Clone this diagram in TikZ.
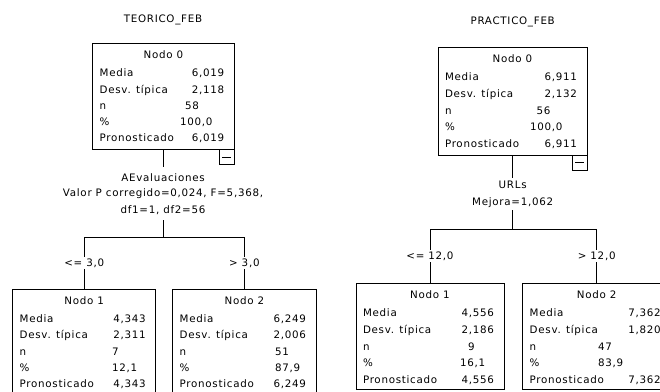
\documentclass[tikz,border=0pt]{standalone}
\usepackage{fontspec}
\setmainfont{DejaVu Sans}[LetterSpace=7]
\begin{document}
\begin{tikzpicture}[x=1bp,y=-1bp,line width=1bp,
  every node/.style={font=\fontsize{10.3bp}{12bp}\selectfont,inner sep=0pt,outer sep=0pt,text height=7.4bp,text depth=0pt},
  statframe/.style={draw,anchor=north west,minimum height=106bp},
  minusbox/.style={draw,anchor=north east,minimum width=15bp,minimum height=15.5bp},
  txt/.style={anchor=base},
  lbl/.style={anchor=base west},
  val/.style={anchor=base east},
  mid/.style={anchor=base west},
  cut/.style={fill=white,inner xsep=1bp,inner ysep=2bp}
]
\useasboundingbox (0,0) rectangle (660,391);
\clip (0,0) rectangle (660,391);
\fill[white] (0,0) rectangle (660,391);

% #1 name, #2 title, #3 media, #4 desv, #5 n, #6 n offset, #7 pct, #8 pct offset
\newcommand\statrows[8]{%
  \pgfmathsetmacro\ya{-15.5}%
  \pgfmathsetmacro\yb{-33.4}%
  \pgfmathsetmacro\yc{-(33.4+\rowsep)}%
  \pgfmathsetmacro\yd{-(33.4+2*\rowsep)}%
  \pgfmathsetmacro\ye{-(33.4+3*\rowsep)}%
  \pgfmathsetmacro\yf{-(33.4+4*\rowsep)}%
  \node[txt] (#1-t) at ([yshift=\ya bp]#1.north) {#2};
  \node[lbl] (#1-ml) at ([xshift=7bp,yshift=\yb bp]#1.north west) {Media};
  \node[val] (#1-mv) at ([xshift=-10bp,yshift=\yb bp]#1.north east) {#3};
  \node[lbl] (#1-dl) at ([xshift=7bp,yshift=\yc bp]#1.north west) {Desv. típica};
  \node[val] (#1-dv) at ([xshift=-10bp,yshift=\yc bp]#1.north east) {#4};
  \node[lbl] (#1-nl) at ([xshift=7bp,yshift=\yd bp]#1.north west) {n};
  \node[mid] (#1-nv) at ([xshift=#6bp,yshift=\yd bp]#1.north west) {#5};
  \node[lbl] (#1-pl) at ([xshift=7bp,yshift=\ye bp]#1.north west) {\%};
  \node[mid] (#1-pv) at ([xshift=#8bp,yshift=\ye bp]#1.north west) {#7};
  \node[lbl] (#1-rl) at ([xshift=7bp,yshift=\yf bp]#1.north west) {Pronosticado};
  \node[val] (#1-rv) at ([xshift=-10bp,yshift=\yf bp]#1.north east) {#3};
}

% ---------------- left tree ----------------
\def\rowsep{16.3}
\node[txt] (LT) at (163,22.7) {TEORICO\_FEB};
\node[statframe,minimum width=141.6bp] (L0) at (92.7,43.3) {};
\statrows{L0}{Nodo 0}{6,019}{2,118}{58}{92.3}{100,0}{87.3}
\node[minusbox] (L0m) at (L0.south east) {};
\draw ([xshift=3bp]L0m.west) -- ([xshift=-3bp]L0m.east);

\node[txt,inner ysep=6.6bp] (L0s1) at (163,181) {AEvaluaciones};
\node[txt] (L0s2) at (163,196.5) {Valor P corregido=0,024, F=5,368,};
\node[txt,inner ysep=7bp] (L0s3) at (163,213) {df1=1, df2=56};
\coordinate (L0j) at (163,237);

\node[statframe,minimum width=143bp] (L1) at (12.7,289) {};
\statrows{L1}{Nodo 1}{4,343}{2,311}{7}{99.3}{12,1}{99.3}
\node[statframe,minimum width=143.3bp] (L2) at (172.7,289) {};
\statrows{L2}{Nodo 2}{6,249}{2,006}{51}{102.3}{87,9}{102.3}

\draw (L0.south) -- (L0.south |- L0s1.north);
\draw (L0s3.south) -- (L0j);
\draw (L0j) -| node[pos=0.75,cut] (L1c) {\textless= 3,0} (L1.north);
\draw (L0j) -| node[pos=0.75,cut] (L2c) {\textgreater{} 3,0} (L2.north);

% ---------------- right tree ----------------
\def\rowsep{16.8}
\node[txt] (RT) at (512.7,24) {PRACTICO\_FEB};
\node[statframe,minimum width=149bp,minimum height=108bp] (R0) at (438,47) {};
\statrows{R0}{Nodo 0}{6,911}{2,132}{56}{98.7}{100,0}{92}
\node[minusbox,minimum width=14.6bp,minimum height=15.7bp] (R0m) at (R0.south east) {};
\draw ([xshift=2.6bp]R0m.west) -- ([xshift=-2.6bp]R0m.east);

\node[txt,inner ysep=3.4bp] (R0s1) at (512.7,188.3) {URLs};
\node[txt,inner ysep=4.3bp] (R0s2) at (512.7,205.7) {Mejora=1,062};
\coordinate (R0j) at (512.7,229.3);

\node[statframe,minimum width=148bp] (R1) at (356,283) {};
\statrows{R1}{Nodo 1}{4,556}{2,186}{9}{112}{16,1}{104}
\node[statframe,minimum width=148bp] (R2) at (522.7,283) {};
\statrows{R2}{Nodo 2}{7,362}{1,820}{47}{75.3}{83,9}{75.3}

\draw (R0.south) -- (R0.south |- R0s1.north);
\draw (R0s2.south) -- (R0j);
\draw (R0j) -| node[pos=0.75,cut] (R1c) {\textless= 12,0} (R1.north);
\draw (R0j) -| node[pos=0.75,cut] (R2c) {\textgreater{} 12,0} (R2.north);
\end{tikzpicture}
\end{document}
